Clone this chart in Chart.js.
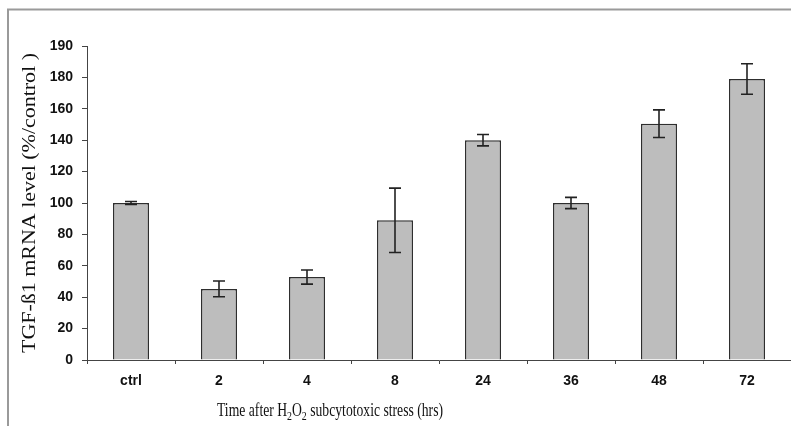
<!DOCTYPE html>
<html>
<head>
<meta charset="utf-8">
<script src="https://cdn.jsdelivr.net/npm/chart.js@4/dist/chart.umd.min.js"></script>
<style>
  html, body { margin: 0; padding: 0; background: #fff; }
  #wrap { width: 791px; height: 426px; position: relative; }
</style>
</head>
<body>
<div id="wrap"><canvas id="tgfChart" width="791" height="426"></canvas></div>
<script>
// données
const categories = ['ctrl', '2', '4', '8', '24', '36', '48', '72'];
const means = [100, 45.3, 52.8, 89, 140, 100, 150.5, 179];
const errors = [1, 5, 4.5, 20.5, 3.6, 3.6, 8.8, 9.7];
const yTickValues = [0, 20, 40, 60, 80, 100, 120, 140, 160, 180, 200];
const yTickLabels = ['0', '20', '40', '60', '80', '100', '120', '140', '160', '180', '190'];

// barres d'erreur
const errorBars = {
    id: 'errorBars',
    afterDatasetsDraw(chart) {
        const ctx = chart.ctx;
        const meta = chart.getDatasetMeta(0);
        const y = chart.scales.y;
        ctx.save();
        ctx.strokeStyle = '#222';
        ctx.lineWidth = 1.6;
        meta.data.forEach((bar, i) => {
            const x = bar.x;
            const top = y.getPixelForValue(means[i] + errors[i]);
            const bot = y.getPixelForValue(means[i] - errors[i]);
            ctx.beginPath();
            ctx.moveTo(x, top); ctx.lineTo(x, bot);
            ctx.moveTo(x - 6, top); ctx.lineTo(x + 6, top);
            ctx.moveTo(x - 6, bot); ctx.lineTo(x + 6, bot);
            ctx.stroke();
        });
        ctx.restore();
    }
};

// texte avec indices (H2O2)
function drawRich(ctx, parts, cx, cy, width) {
    const big = '18px "Liberation Serif", "Times New Roman", serif';
    const small = '13px "Liberation Serif", "Times New Roman", serif';
    let total = 0;
    parts.forEach(p => { ctx.font = p.sub ? small : big; total += ctx.measureText(p.t).width; });
    const sx = width / total;
    ctx.save();
    ctx.translate(cx, cy);
    ctx.scale(sx, 1);
    let x = -total / 2;
    ctx.textBaseline = 'alphabetic';
    ctx.textAlign = 'left';
    parts.forEach(p => {
        ctx.font = p.sub ? small : big;
        ctx.fillText(p.t, x, p.sub ? 4 : 0);
        x += ctx.measureText(p.t).width;
    });
    ctx.restore();
}

const decor = {
    id: 'decor',
    afterDraw(chart) {
        const ctx = chart.ctx;
        ctx.save();
        // cadre
        ctx.strokeStyle = '#9a9a9a';
        ctx.lineWidth = 2;
        ctx.beginPath();
        ctx.moveTo(8, 426); ctx.lineTo(8, 9.5); ctx.lineTo(791, 9.5);
        ctx.stroke();
        ctx.fillStyle = '#111';
        // titre axe x
        drawRich(ctx, [
            { t: 'Time after H' }, { t: '2', sub: true }, { t: 'O' }, { t: '2', sub: true },
            { t: ' subcytotoxic stress (hrs)' }
        ], 330, 416, 226);
        // titre axe y
        ctx.translate(35, 203);
        ctx.rotate(-Math.PI / 2);
        drawRich(ctx, [{ t: 'TGF-ß1 mRNA level (%/control )' }], 0, 0, 300);
        ctx.restore();
    }
};

const ctx = document.getElementById('tgfChart').getContext('2d');
new Chart(ctx, {
    type: 'bar',
    data: {
        labels: categories,
        datasets: [{
            data: means,
            backgroundColor: '#bdbdbd',
            borderColor: '#2e2e2e',
            borderWidth: 1.5,
            barPercentage: 0.41,
            categoryPercentage: 1
        }]
    },
    options: {
        responsive: false,
        animation: false,
        layout: { padding: { top: 46, right: 0, left: 0, bottom: 0 } },
        plugins: { legend: { display: false }, tooltip: { enabled: false } },
        scales: {
            x: {
                grid: { drawOnChartArea: false, tickLength: 4, tickColor: '#444', offset: true },
                border: { color: '#444', width: 1 },
                ticks: {
                    color: '#111', padding: 9,
                    font: { family: '"Liberation Sans", Arial, sans-serif', size: 14, weight: 'bold' }
                },
                afterFit(scale) { scale.height = 66; }
            },
            y: {
                min: 0, max: 200,
                afterBuildTicks(scale) { scale.ticks = yTickValues.map(v => ({ value: v })); },
                grid: { drawOnChartArea: false, tickLength: 5, tickColor: '#444' },
                border: { color: '#444', width: 1 },
                ticks: {
                    color: '#111', padding: 9,
                    font: { family: '"Liberation Sans", Arial, sans-serif', size: 14, weight: 'bold' },
                    callback: (v) => yTickLabels[yTickValues.indexOf(v)]
                },
                afterFit(scale) { scale.width = 87; }
            }
        }
    },
    plugins: [errorBars, decor]
});
</script>
</body>
</html>
